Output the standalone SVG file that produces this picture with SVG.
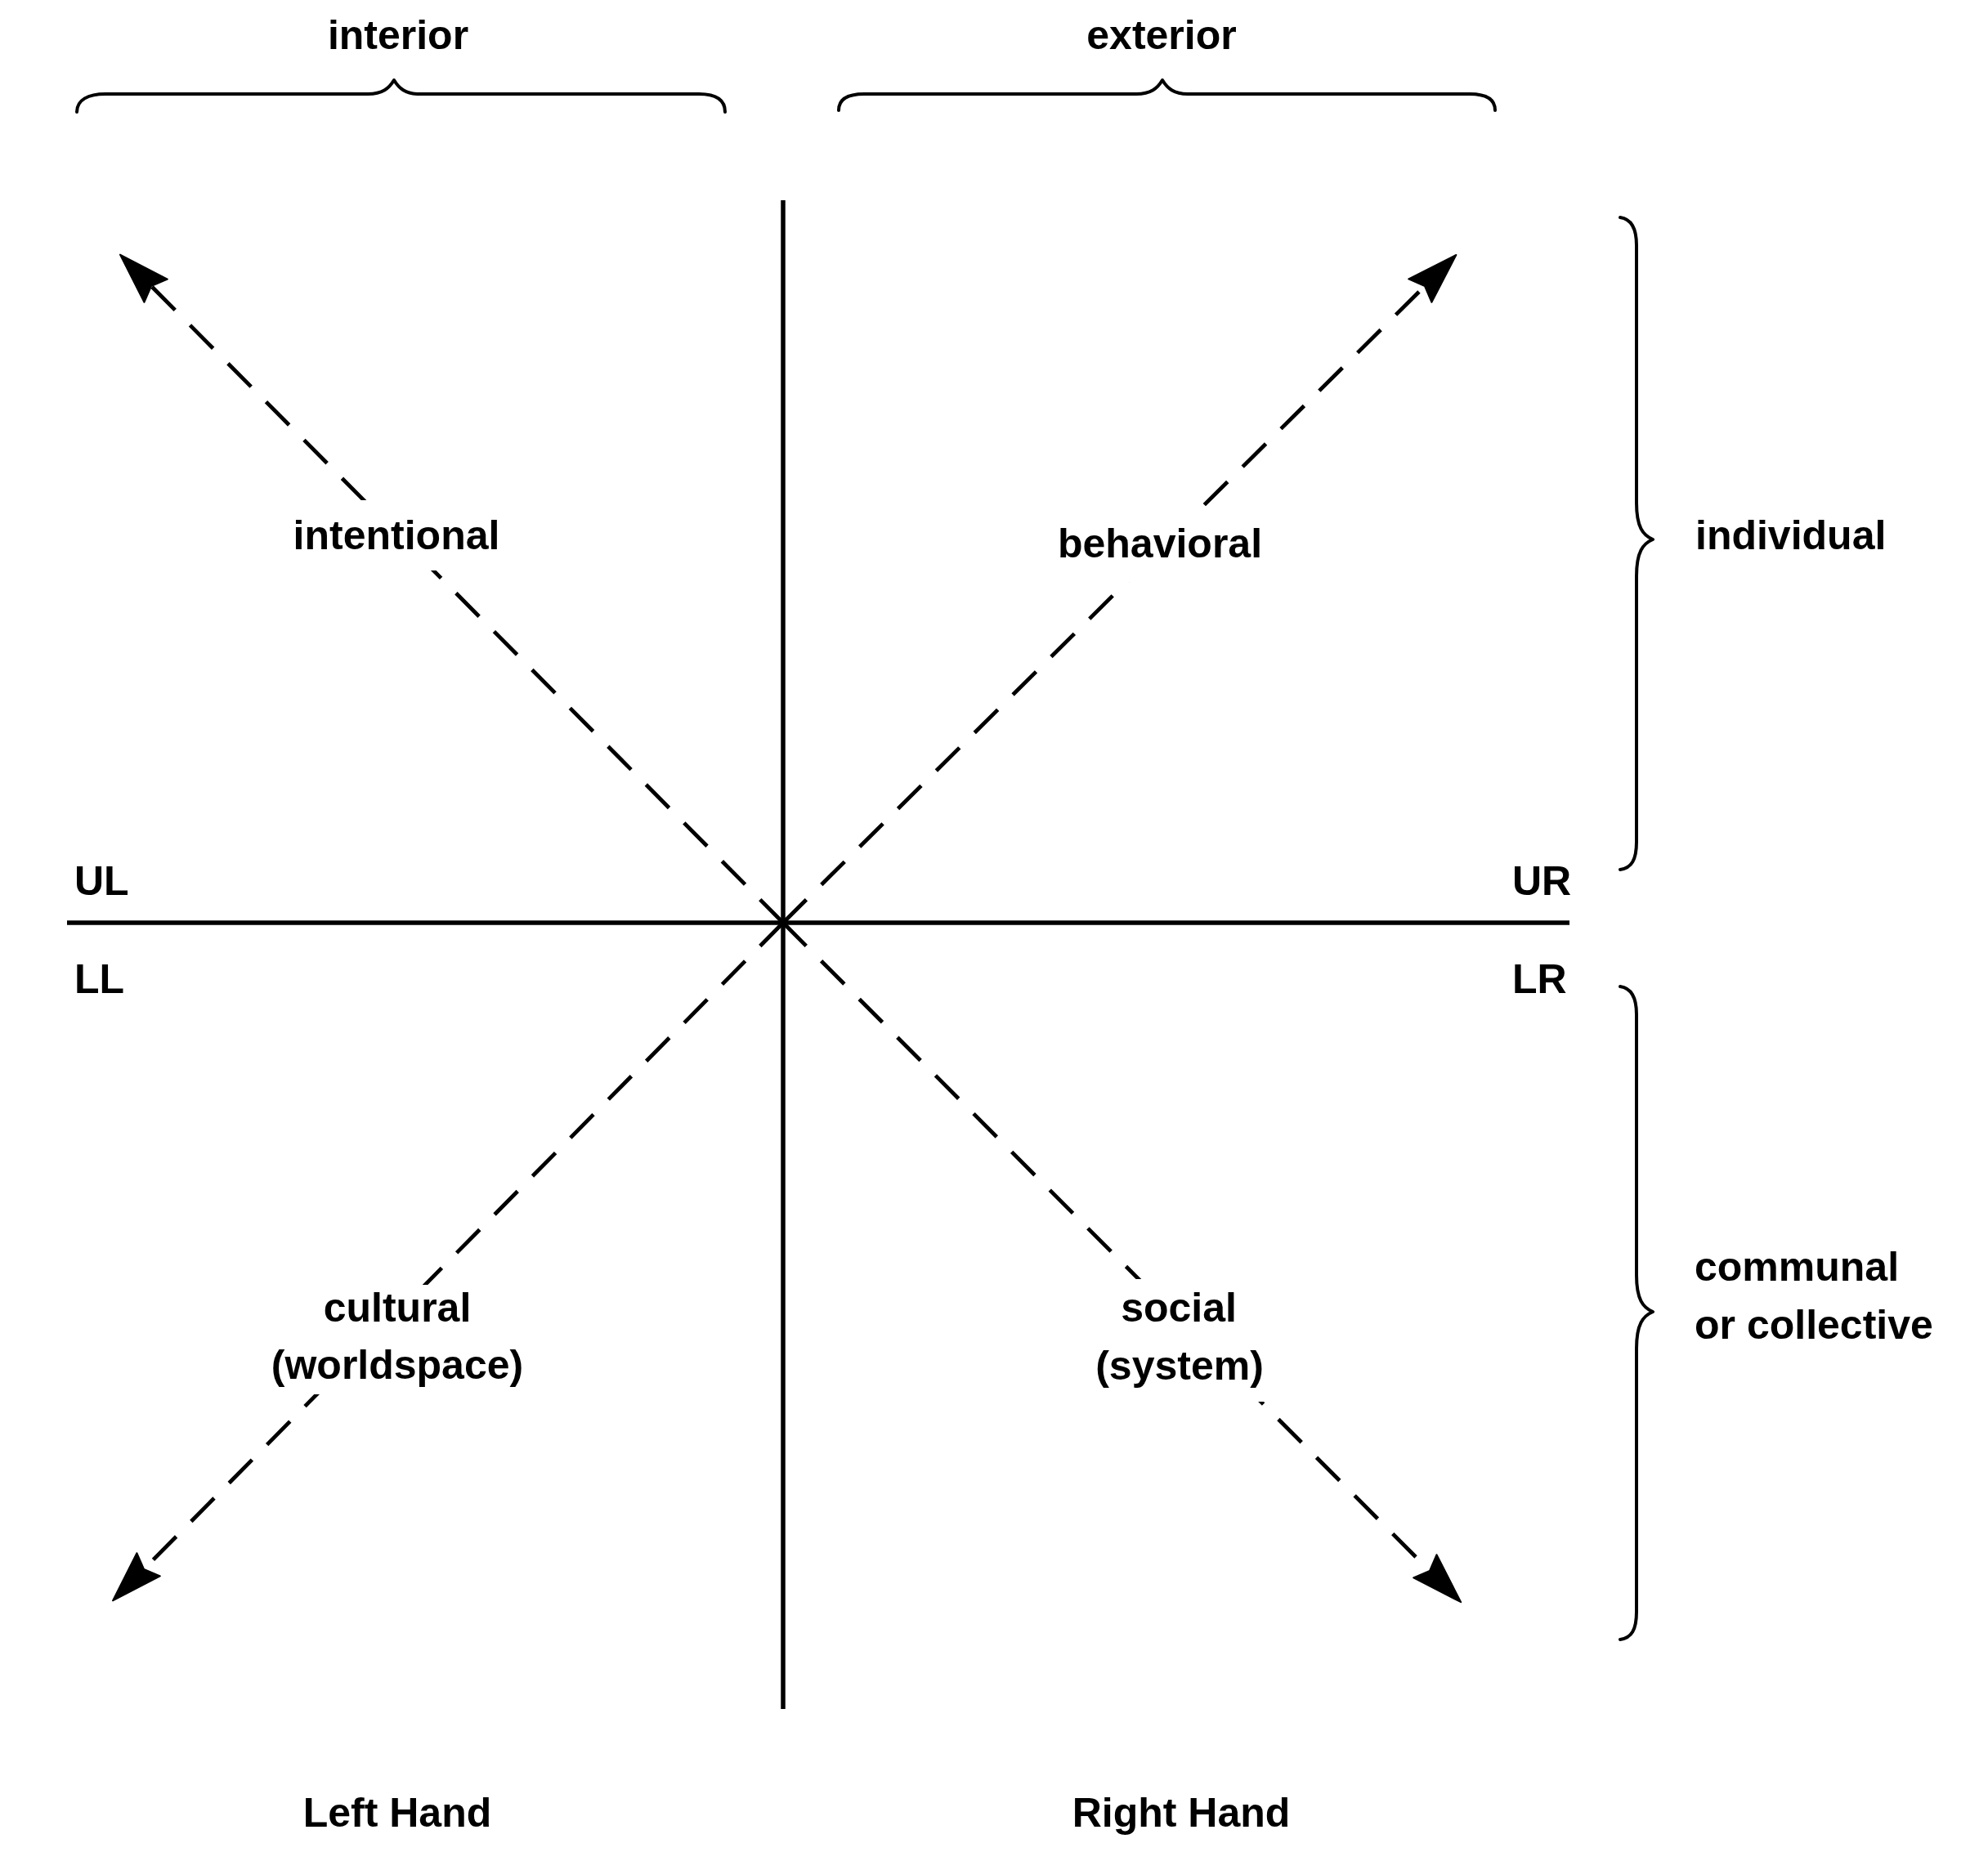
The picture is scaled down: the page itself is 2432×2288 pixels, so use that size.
<svg xmlns="http://www.w3.org/2000/svg" width="2432" height="2288" viewBox="0 0 2432 2288">
<style>
  .lbl { font-family: "Liberation Sans", Arial, sans-serif; font-weight: bold; font-size: 50px; fill: #000; }
  .mid { text-anchor: middle; }
  .axis { stroke: #000; stroke-width: 5.5; fill: none; }
  .dash { stroke: #000; stroke-width: 4.8; fill: none; stroke-dasharray: 40 26; }
  .brace { stroke: #000; stroke-width: 4; fill: none; stroke-linecap: round; stroke-linejoin: round; }
  .bg { fill: #fff; }
</style>
<defs>
  <marker id="head" markerUnits="userSpaceOnUse" viewBox="-2 -24 68 48" markerWidth="68" markerHeight="48" refX="8" refY="0" orient="auto">
    <path d="M62,0 L0,-20 L8,0 L0,20 Z" fill="#000" stroke="#000" stroke-width="2" stroke-linejoin="round"/>
  </marker>
</defs>
<rect x="0" y="0" width="2432" height="2288" fill="#fff"/>

<g id="connectors">
  <line id="axis-v" class="axis" x1="958" y1="245" x2="958" y2="2091"/>
  <line id="axis-h" class="axis" x1="82" y1="1129" x2="1920" y2="1129"/>
  <line id="arrow-ul" class="dash" x1="958" y1="1129" x2="185" y2="350" marker-end="url(#head)"/>
  <line id="arrow-ur" class="dash" x1="958" y1="1129" x2="1743" y2="350" marker-end="url(#head)"/>
  <line id="arrow-ll" class="dash" x1="958" y1="1129" x2="176" y2="1920" marker-end="url(#head)"/>
  <line id="arrow-lr" class="dash" x1="958" y1="1129" x2="1749" y2="1922" marker-end="url(#head)"/>
</g>

<g id="brace-interior">
  <path class="brace" d="M94,137 C94,122 108,115 129,115 L450,115 C468,115 476,108 482,98 C488,108 496,115 513,115 L855,115 C876,115 887,122 887,137"/>
  <text class="lbl mid" x="487" y="60">interior</text>
</g>
<g id="brace-exterior">
  <path class="brace" d="M1026,135 C1026,121 1038,115 1057,115 L1390,115 C1408,115 1416,108 1422,98 C1428,108 1436,115 1453,115 L1798,115 C1818,115 1829,121 1829,135"/>
  <text class="lbl mid" x="1421" y="60">exterior</text>
</g>
<g id="brace-individual">
  <path class="brace" d="M1982,266 C1996,268 2002,280 2002,300 L2002,615 C2002,645 2010,655 2022,660 C2010,665 2002,675 2002,705 L2002,1030 C2002,1052 1996,1062 1982,1064"/>
  <text class="lbl" x="2074" y="672">individual</text>
</g>
<g id="brace-collective">
  <path class="brace" d="M1982,1207 C1996,1209 2002,1221 2002,1241 L2002,1560 C2002,1590 2010,1600 2022,1605 C2010,1610 2002,1620 2002,1650 L2002,1972 C2002,1994 1996,2004 1982,2006"/>
  <text class="lbl" x="2073" y="1567">communal</text>
  <text class="lbl" x="2073" y="1638">or collective</text>
</g>

<g id="node-intentional">
  <rect class="bg" x="355" y="612" width="262" height="86"/>
  <text class="lbl mid" x="485" y="672">intentional</text>
</g>
<g id="node-behavioral">
  <rect class="bg" x="1290" y="630" width="260" height="82"/>
  <text class="lbl mid" x="1419" y="682">behavioral</text>
</g>
<g id="node-cultural">
  <rect class="bg" x="330" y="1572" width="312" height="134"/>
  <text class="lbl mid" x="486" y="1617">cultural</text>
  <text class="lbl mid" x="486" y="1687">(worldspace)</text>
</g>
<g id="node-social">
  <rect class="bg" x="1335" y="1565" width="215" height="150"/>
  <text class="lbl mid" x="1442" y="1617">social</text>
  <text class="lbl mid" x="1443" y="1688">(system)</text>
</g>

<g id="quadrant-labels">
  <text class="lbl" x="91" y="1095">UL</text>
  <text class="lbl" x="91" y="1215">LL</text>
  <text class="lbl" x="1850" y="1095">UR</text>
  <text class="lbl" x="1850" y="1215">LR</text>
</g>
<g id="hand-labels">
  <text class="lbl mid" x="486" y="2235">Left Hand</text>
  <text class="lbl mid" x="1445" y="2235">Right Hand</text>
</g>
</svg>
